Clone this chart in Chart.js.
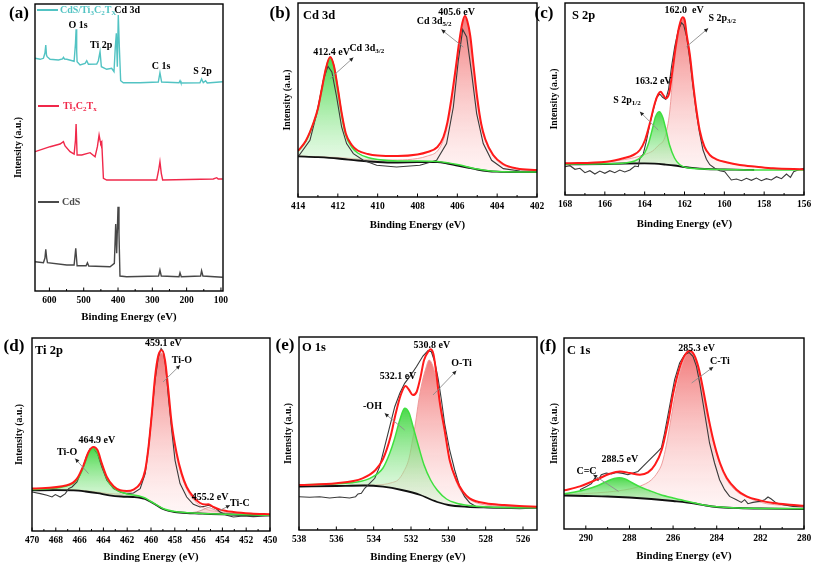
<!DOCTYPE html>
<html>
<head>
<meta charset="utf-8">
<script src="https://cdn.jsdelivr.net/npm/chart.js@4.4.0/dist/chart.umd.min.js"></script>
<style>
  html, body { margin: 0; padding: 0; background: #fff; }
  #fig { position: relative; width: 813px; height: 566px; overflow: hidden;
         font-family: "Liberation Serif", "Times New Roman", serif; font-weight: bold; color: #000; }
  #fig canvas { position: absolute; }
  .lbl { position: absolute; white-space: nowrap; line-height: 1; z-index: 3; }
  .tag { font-size: 17px; transform: translate(-50%, -50%); }
  .ttl { font-size: 12.5px; transform: translateY(-50%); }
  .leg { font-size: 10px; transform: translateY(-50%); }
  .leg sub { font-size: 0.7em; vertical-align: -0.3em; line-height: 0; }
  .sw { position: absolute; height: 2px; width: 21px; z-index: 3; }
</style>
</head>
<body>
<div id="fig">
  <div class="lbl tag" style="left:19px;top:12px">(a)</div>
  <div class="lbl tag" style="left:280px;top:12px">(b)</div>
  <div class="lbl tag" style="left:544px;top:12px">(c)</div>
  <div class="lbl tag" style="left:14px;top:345px">(d)</div>
  <div class="lbl tag" style="left:285px;top:344px">(e)</div>
  <div class="lbl tag" style="left:548px;top:345px">(f)</div>

  <div class="lbl ttl" style="left:303px;top:15px">Cd 3d</div>
  <div class="lbl ttl" style="left:572px;top:15px">S 2p</div>
  <div class="lbl ttl" style="left:35px;top:350px">Ti 2p</div>
  <div class="lbl ttl" style="left:302px;top:347px">O 1s</div>
  <div class="lbl ttl" style="left:567px;top:350px">C 1s</div>

  <div class="sw" style="left:37px;top:9px;background:#52c3c3"></div>
  <div class="lbl leg" style="left:60px;top:10px;color:#52c3c3">CdS/Ti<sub>3</sub>C<sub>2</sub>T<sub>X</sub></div>
  <div class="sw" style="left:38px;top:105px;background:#f0284a"></div>
  <div class="lbl leg" style="left:63px;top:106px;color:#f0284a">Ti<sub>3</sub>C<sub>2</sub>T<sub>x</sub></div>
  <div class="sw" style="left:38px;top:201px;background:#4a4a4a"></div>
  <div class="lbl leg" style="left:62px;top:202px;color:#4a4a4a">CdS</div>
</div>

<script>
// ── (a) survey spectra: [binding energy, intensity] ─────────────
const surveyCdSTi = [[641.6,232.7],[627,231.7],[617.4,232.7],[613,238],[610.6,246],[608.5,236],[606.7,234.3],[598,231.7],[573.7,231],[562,232],[559.2,233.7],[556,232],[549.4,231.7],[528,229.7],[524,247.7],[522.2,261.7],[520.5,240],[519.3,229.3],[510.6,226],[496,227.7],[491.2,230.3],[486.3,226.7],[462,227],[457.3,230.3],[452.4,239.3],[448.5,224.3],[433,221.7],[418.5,222.7],[411.7,219.3],[407.9,244.3],[404.9,257.7],[402,224.3],[399.2,276],[396.2,244.3],[392.3,210.3],[384.6,208.3],[336,208.3],[282.6,209],[277.8,218.3],[272.9,209],[222.2,208.3],[219.3,210.3],[216.6,208],[161.2,208.3],[156.4,212],[151.5,208.3],[144.8,210.3],[140,208],[95.2,209.3]];
const surveyTi3C2 = [[641.6,139.3],[598,144.3],[569,147],[559.2,149.3],[554.4,145],[539.8,139.3],[528,137],[524,151],[522.2,167],[519.3,136],[505.7,136],[481.4,138.3],[466.9,134.3],[460.1,144.3],[455.2,156],[452,150],[450.4,147.7],[447.5,149.3],[442.6,112.7],[433,111],[287.3,111],[281.5,121],[277.8,129.3],[273.9,117.7],[269.9,111],[122.4,112],[112.3,113.3],[108,112],[95.2,112]];
const surveyCdS = [[641.6,29.3],[617.4,28.3],[613,33],[610.6,41.7],[608,33],[605.7,28.3],[549.4,26],[528,26],[523.2,42.7],[519.3,25.3],[493.1,25.3],[489.2,28.3],[485.3,25],[423.2,24.3],[410.7,27.7],[406.8,67],[403.9,37.7],[400,84.3],[397.2,57.7],[394.3,15],[374.9,14.3],[281.8,15],[277.8,21],[273.9,15],[222.2,14.3],[219.3,18.3],[215.6,14.3],[159.3,15],[156.4,20.3],[152.5,15],[95.2,13.7]];
const surveyTicks = [600, 500, 400, 300, 200, 100];

// ── (b) Cd 3d ────────────────────────────────────────────────────
const cdRaw = [[414,40],[413.4,56.7],[413.06,83.4],[412.73,116.7],[412.5,130.7],[412.3,125],[412.06,100],[411.81,70],[411.56,53.4],[411.22,43.4],[410.72,36.7],[410.05,31.7],[409.05,30],[407.88,31.7],[407.04,36.7],[406.54,53.4],[406.2,90],[405.95,136.7],[405.73,167.4],[405.53,160],[405.28,123.4],[405.03,83.4],[404.7,53.4],[404.28,36.7],[403.69,28.4],[402.86,26],[402.02,25.7]];
const cdBg = [[414,40.7],[413,39.8],[412,38.5],[411,36.5],[410,35],[409,34.5],[408,34.8],[407,34.8],[406.5,33.5],[406,31.5],[405.5,29.5],[405,27.5],[404.5,26],[404,25.3],[403,25],[402,25]];
const cdGreen = [[414,46],[413.6,56],[413.2,75],[413,88],[412.8,108],[412.6,128],[412.39,139.4],[412.2,131],[412,108],[411.8,82],[411.6,62],[411.3,50],[411,44],[410.5,39.5],[410,37.5],[409,36],[408,36],[407,35.5],[406,32.5],[405,28],[404,25.5],[402,25]];
const cdPink = [[414,41],[412,39.5],[411,38],[410,37],[409,37],[408,38.5],[407.5,41],[407,46],[406.7,57],[406.5,72],[406.3,96],[406.1,124],[405.9,155],[405.75,173],[405.62,180],[405.5,175],[405.35,160],[405.2,133],[405,98],[404.8,72],[404.6,57],[404.2,41],[403.7,32],[403,28],[402,26.5]];
const cdFit = [[414,46],[413.6,56.5],[413.2,75.5],[413,88.5],[412.8,108.5],[412.6,128.5],[412.39,140],[412.2,131.5],[412,108.5],[411.8,83],[411.6,63.5],[411.3,52],[411,46.5],[410.5,43],[410,41.5],[409,41],[408,42.5],[407.5,45],[407,50],[406.7,60],[406.5,74.5],[406.3,98],[406.1,126],[405.9,156],[405.75,174],[405.62,181],[405.5,176],[405.35,161],[405.2,134],[405,99],[404.8,73],[404.6,58],[404.2,42],[403.7,33],[403,28.5],[402,27]];
const cdTicks = [414, 412, 410, 408, 406, 404, 402];

// ── (c) S 2p ─────────────────────────────────────────────────────
const sRaw = [[168,28.3],[167.75,29.3],[167.5,25.7],[167.25,26.7],[167,22.3],[166.75,24.3],[166.5,21],[166.25,24],[166,21.7],[165.75,24.3],[165.5,22.3],[165.25,25],[165,23],[164.74,25],[164.49,29],[164.32,28.3],[164.24,36.7],[164.07,41],[163.9,55],[163.74,71],[163.57,85],[163.4,97.7],[163.24,101],[163.1,97.7],[162.94,95.7],[162.8,105.7],[162.65,128.3],[162.49,148.3],[162.32,164.3],[162.15,172.3],[162.04,170],[161.9,159],[161.73,135],[161.57,107.7],[161.4,81.7],[161.24,61.7],[161.07,45],[160.9,35.7],[160.73,30.3],[160.48,26.7],[160.23,24.3],[159.98,23.3],[159.81,19],[159.65,15],[159.39,16],[159.14,14.3],[158.89,16.7],[158.64,14.7],[158.39,17],[158.14,14.3],[157.89,16.3],[157.64,15],[157.38,18.3],[157.13,16.3],[156.88,21],[156.68,17.7],[156.52,23.3],[156.3,25],[156,26.7]];
const sBg = [[168,30.7],[166,31],[165,31.5],[164,31.7],[163.5,31.3],[163,30.5],[162.5,29.5],[162,28],[161.5,26.8],[161,26],[160,25.5],[159,25.2],[158.5,25]];
const sGreen = [[168,30.8],[166,31.2],[165,32],[164.5,34],[164.2,37.5],[164,42],[163.8,52],[163.6,67],[163.45,78.5],[163.26,83.3],[163.1,78],[162.95,67],[162.75,50],[162.5,37],[162.25,30.5],[161.8,27],[161,26],[160,25.5],[158,25],[156,25]];
const sPink = [[168,31.6],[166,33],[165,35.5],[164.5,37.5],[164,40.5],[163.6,44],[163.26,50.5],[163.1,53],[162.95,60],[162.75,82],[162.6,115],[162.44,144],[162.27,167],[162.1,177],[161.99,174],[161.9,161],[161.73,139.5],[161.57,111],[161.4,84.5],[161.24,64.5],[161,48],[160.73,40],[160.4,35.7],[159.9,32.7],[159.22,30],[158.39,28.3],[157.55,26.7],[156,25.7]];
const sFit = [[168,31.7],[165.91,33.3],[165.07,36.7],[164.57,40],[164.24,45],[163.98,55],[163.74,71.7],[163.49,91.7],[163.32,100.7],[163.2,103.3],[163.07,100],[162.94,96.7],[162.77,101.7],[162.6,125],[162.44,148.3],[162.27,168.3],[162.1,177.7],[161.99,175],[161.9,161.7],[161.73,140],[161.57,111.7],[161.4,85],[161.24,65],[161,48.3],[160.73,40],[160.4,35.7],[159.9,32.7],[159.22,30],[158.39,28.3],[157.55,26.7],[156,25.7]];
const sTicks = [168, 166, 164, 162, 160, 158, 156];

// ── (d) Ti 2p ────────────────────────────────────────────────────
const tiRaw = [[470,39],[469.3,37.4],[468.74,35.7],[468.32,34],[468.04,36.4],[467.62,34],[467.2,37.4],[466.92,42.4],[466.64,44],[466.22,49],[465.81,60.7],[465.44,74],[465.11,82.4],[464.83,83],[464.49,77.4],[464.13,64],[463.71,50.7],[463.15,42.4],[462.59,39],[462.03,37.4],[461.47,38],[460.91,42.4],[460.49,57.4],[460.21,84],[459.93,117.4],[459.66,150.7],[459.38,174],[459.15,182.4],[458.96,179],[458.76,164],[458.54,134],[458.26,100.7],[457.98,70.7],[457.56,47.4],[457,34],[456.44,26.7],[455.88,24],[455.46,24.7],[455.18,25.7],[454.76,24],[454.48,22],[454.2,19],[453.64,15.7],[453.08,14],[452.24,15],[451.4,14.4],[450,15.4]];
const tiBg = [[470,40.7],[468,40.8],[466.5,40.6],[465.5,39.5],[464.5,37.8],[463.5,35.7],[462.5,34.5],[461.5,34],[461,33.5],[460.5,32],[460,29],[459.5,25.5],[459,22],[458.5,20],[458,19],[457,18],[456,17.5],[455,17],[454,16.6],[452,16],[450,15.7]];
const tiGreen = [[470,41.5],[468,43],[467,45.5],[466.3,50],[465.8,60],[465.4,73],[465.1,80.5],[464.85,82.4],[464.6,80],[464.3,72],[464,62],[463.7,52],[463.3,45],[462.8,40.5],[462,37],[461,35],[460.5,33],[460,29.5],[459,22.5],[458,19.5],[456,17.8],[450,15.8]];
const tiPink = [[470,41.2],[468,41.4],[466.5,41.2],[465.5,40.3],[464.5,39],[463.5,37.3],[462.5,37],[462,38.5],[461.5,41],[460.9,46.5],[460.5,58],[460.2,80],[459.93,114],[459.66,150],[459.38,172],[459.12,178],[458.82,168],[458.54,138],[458.26,105],[457.84,75],[457.42,55],[457,42],[456.44,31.5],[455.88,25.5],[455.2,21],[454.5,19.5],[453,18],[451.5,17],[450,16.5]];
const tiCarbide = [[457,18],[456.2,19],[455.6,21.5],[455.2,23.5],[454.8,22],[454.2,19],[453.5,17.5],[452,16.2]];
const tiFit = [[470,42.4],[467.06,45.7],[466.22,52.4],[465.67,65.7],[465.25,79],[464.83,84],[464.49,80.7],[464.13,67.4],[463.71,54],[463.15,44.7],[462.59,40.7],[462.03,40],[461.47,41.4],[460.91,47.4],[460.49,60.7],[460.21,84],[459.93,117.4],[459.66,154],[459.38,175.7],[459.09,180.7],[458.82,170.7],[458.54,140.7],[458.26,107.4],[457.84,77.4],[457.42,57.4],[457,44],[456.44,34],[455.88,28],[455.46,26.4],[455.18,26.7],[454.76,24],[454.2,21.4],[453.08,19],[451.6,17.4],[450,16.7]];
const tiTicks = [470, 468, 466, 464, 462, 460, 458, 456, 454, 452, 450];

// ── (e) O 1s ─────────────────────────────────────────────────────
const oRaw = [[538,33.3],[537.43,32.7],[536.89,33.3],[536.36,32],[535.82,33],[535.29,32],[534.97,33.3],[534.84,36],[534.66,36.7],[534.48,41.7],[534.21,46.7],[533.94,51.7],[533.68,63.3],[533.41,83.3],[533.14,103.3],[532.87,123.3],[532.6,136.7],[532.34,146.7],[532.07,153.3],[531.71,163.3],[531.36,174],[531.09,179.3],[530.91,178.3],[530.73,168.3],[530.55,151.7],[530.37,130],[530.2,106.7],[529.93,80],[529.66,60],[529.39,43.3],[529.13,33.3],[528.86,27.3],[528.5,23.3],[527.97,22.3],[527.07,21.7],[526.18,21.3],[525.28,22]];
const oBg = [[538,43.3],[536,44],[534.5,44.5],[533.5,43.3],[532.5,40],[531.5,35],[531,31],[530.5,27.5],[530,25],[529,23.2],[528,22.6],[526,22.3],[525.25,22.3]];
const oGreen = [[538,45],[536,46.3],[535,47.7],[534.2,51.7],[533.5,62],[533.14,76.7],[532.9,90],[532.6,110],[532.34,121.7],[532.1,117],[531.9,104],[531.6,84],[531.3,65],[530.95,50],[530.6,40],[530.1,31],[529.6,27],[528.9,24.5],[527,22.5],[525.25,22.3]];
const oPink = [[538,44],[536,44.3],[534.5,44.8],[533.5,45.5],[533,47.5],[532.7,50],[532.4,58],[532.1,72],[531.9,92],[531.75,108],[531.6,128],[531.4,148],[531.2,162],[531.03,170],[530.85,165],[530.65,151],[530.46,130],[530.2,100],[529.93,70],[529.57,48],[529.22,36],[528.86,30.5],[528.3,26],[527,24],[525.25,23.3]];
const oFit = [[538,45],[536,46.7],[534.6,51.7],[533.9,60],[533.5,71],[533.1,93],[532.85,114],[532.55,135],[532.29,144],[532.1,140],[531.9,135],[531.7,138],[531.5,152],[531.3,170],[531.05,179],[530.96,180.7],[530.8,176],[530.64,156],[530.46,128],[530.2,100],[529.93,70],[529.57,50],[529.22,38.3],[528.86,31.7],[528,26.7],[527,25],[526.2,24],[525.25,23.3]];
const oTicks = [538, 536, 534, 532, 530, 528, 526];

// ── (f) C 1s ─────────────────────────────────────────────────────
const cRaw = [[290.27,39.3],[289.97,42.6],[289.74,45.3],[289.59,51],[289.44,48.6],[289.29,54.3],[289.06,56],[288.83,55],[288.6,56.6],[288.3,55.6],[288.07,54.3],[287.84,56],[287.61,57.6],[287.38,62.6],[287.15,67.6],[286.92,72.6],[286.69,77.6],[286.54,81],[286.39,96],[286.16,122.6],[285.93,149.3],[285.7,166],[285.47,174.3],[285.27,176.6],[285.09,172.6],[284.93,162.6],[284.78,146],[284.63,126],[284.48,106],[284.33,86],[284.1,66],[283.87,49.3],[283.64,39.3],[283.41,32.6],[283.1,29.3],[282.87,26.6],[282.72,29.3],[282.57,25.3],[282.34,26.6],[282.03,27.6],[281.8,29.3],[281.65,32],[281.5,30],[281.27,25.9],[280.97,24.3],[280.51,22.6],[280,22]];
const cBg = [[291,33.5],[290,33],[289,32.5],[288,31.5],[287,30],[286,28],[285,25.5],[284.5,23.5],[284,22],[283,21],[282,20.5],[280,20]];
const cGreen = [[291,35],[290.5,37],[290,39.5],[289.5,43],[289,48],[288.7,50.5],[288.47,51.3],[288.2,50],[287.9,46.5],[287.5,42],[287.1,38.5],[286.6,34.5],[286,31],[285.2,27],[284.6,24],[284,22.3],[283,21],[282,20.6],[280,20.3]];
const cPink = [[291,34.3],[290,35.5],[289,37],[288,40],[287.5,43],[287,49],[286.7,57],[286.5,66],[286.3,85],[286.1,110],[285.9,135],[285.7,155],[285.5,169],[285.35,175.5],[285.23,177.6],[285.07,173.3],[284.84,161],[284.62,137.6],[284.39,111],[284.16,87.6],[283.85,64.3],[283.54,49.3],[283.09,37.6],[282.63,32],[282.17,28],[281.71,25.3],[281,23.8],[280,23]];
const cFit = [[291,38.6],[290.27,42.6],[289.51,49.3],[288.9,55.3],[288.44,57.6],[287.98,56],[287.52,54.3],[287.15,56.6],[286.83,64.3],[286.52,79.3],[286.21,109.3],[285.99,136],[285.68,162.6],[285.42,175.3],[285.23,178.3],[285.04,174.3],[284.84,162],[284.62,139.3],[284.39,112.6],[284.16,89.3],[283.85,66],[283.54,51],[283.09,39.3],[282.63,32.6],[282.03,28.6],[281.41,26],[280.65,24.3],[280,23.3]];
const cTicks = [290, 288, 286, 284, 282, 280];

// ── Layout (plot boxes in page pixels) ───────────────────────────
const BOX = {
  a: [35, 4, 223, 291],
  b: [298, 3, 537, 197],
  c: [565, 3, 804, 195],
  d: [32, 338, 270, 531],
  e: [299, 337, 537, 530],
  f: [564, 338, 804, 529],
};
const PAD_L = 30, PAD_R = 12, PAD_T = 2, PAD_B = 40;
const SERIF = '"Liberation Serif", "Times New Roman", serif';

Chart.defaults.font.family = SERIF;
Chart.defaults.font.weight = 'bold';
Chart.defaults.color = '#000';

const pts = arr => arr.map(([x, y]) => ({ x, y }));

// gradient from the curve's top down to the baseline
function grad(arr, top, bottom) {
  const hi = Math.max(...arr.map(p => p[1]));
  return c => {
    const ch = c.chart, ys = ch.scales.y;
    if (!ch.chartArea || !ys) return top;
    const g = ch.ctx.createLinearGradient(0, ys.getPixelForValue(hi), 0, ys.getPixelForValue(12));
    g.addColorStop(0, top);
    g.addColorStop(1, bottom);
    return g;
  };
}

const PINK_TOP = "rgba(240,108,108,0.9)", PINK_BOT = "rgba(255,232,232,0.3)";
const GREEN_TOP = "rgba(55,212,55,0.9)", GREEN_BOT = "rgba(228,250,228,0.3)";

// index 1 is always the background line the fills go down to
function xpsSets(raw, bg, green, pink, fit, extra) {
  const sets = [
    { data: pts(fit), borderColor: "#ff1a1a", borderWidth: 2, order: 1 },
    { data: pts(bg), borderColor: "#111", borderWidth: 1.8, order: 5 },
    { data: pts(pink), borderColor: "rgba(236,150,150,0.9)", borderWidth: 1, fill: 1,
      backgroundColor: grad(pink, PINK_TOP, PINK_BOT), order: 10 },
    { data: pts(green), borderColor: "rgba(0,0,0,0)", borderWidth: 0, fill: 1,
      backgroundColor: grad(green, GREEN_TOP, GREEN_BOT), order: 9 },
    { data: pts(raw), borderColor: "#3a3a3a", borderWidth: 1.1, order: 4, cubicInterpolationMode: 'default', tension: 0 },
    { data: pts(green), borderColor: "#3fe03f", borderWidth: 1.5, order: 3 },
  ];
  if (extra) sets.push({ data: pts(extra), borderColor: "rgba(200,150,150,0.9)", borderWidth: 1, fill: 1,
    backgroundColor: "rgba(245,190,190,0.5)", order: 8 });
  return sets;
}

// ── Ticks, frame, arrows and peak labels ─────────────────────────
const SPEC = {};

function richText(ctx, x, y, segs, size) {
  let cx = x;
  segs.forEach(s => {
    const sub = typeof s !== "string";
    const t = sub ? s.sub : s;
    const fs = sub ? size * 0.7 : size;
    ctx.font = `bold ${fs}px ${SERIF}`;
    ctx.fillText(t, cx, sub ? y + size * 0.3 : y);
    cx += ctx.measureText(t).width;
  });
}

function arrow(ctx, x1, y1, x2, y2) {
  ctx.strokeStyle = "#8c8c8c";
  ctx.lineWidth = 0.9;
  ctx.beginPath(); ctx.moveTo(x1, y1); ctx.lineTo(x2, y2); ctx.stroke();
  const a = Math.atan2(y2 - y1, x2 - x1), s = 4.5;
  ctx.fillStyle = "#222";
  ctx.beginPath();
  ctx.moveTo(x2, y2);
  ctx.lineTo(x2 - s * Math.cos(a - 0.45), y2 - s * Math.sin(a - 0.45));
  ctx.lineTo(x2 - s * Math.cos(a + 0.45), y2 - s * Math.sin(a + 0.45));
  ctx.closePath(); ctx.fill();
}

const decor = {
  id: "decor",
  afterDatasetsDraw(chart) {
    const spec = SPEC[chart.canvas.id];
    const { ctx, chartArea: A, scales: { x, y } } = chart;
    ctx.save();
    // inward ticks, major + minor
    ctx.strokeStyle = "#000";
    ctx.lineWidth = 1;
    const step = Math.abs(spec.ticks[1] - spec.ticks[0]);
    const lo = Math.min(spec.xmin, spec.xmax), hi = Math.max(spec.xmin, spec.xmax);
    spec.ticks.forEach(v => {
      const px = x.getPixelForValue(v);
      ctx.beginPath(); ctx.moveTo(px, A.bottom); ctx.lineTo(px, A.bottom - 3.5); ctx.stroke();
      const m = v - step / 2;
      if (m > lo && m < hi) {
        const pm = x.getPixelForValue(m);
        ctx.beginPath(); ctx.moveTo(pm, A.bottom); ctx.lineTo(pm, A.bottom - 2); ctx.stroke();
      }
    });
    // frame
    ctx.lineWidth = 1.4;
    ctx.strokeRect(A.left, A.top, A.right - A.left, A.bottom - A.top);
    // arrows
    (spec.arrows || []).forEach(([x1, y1, x2, y2]) =>
      arrow(ctx, x.getPixelForValue(x1), y.getPixelForValue(y1), x.getPixelForValue(x2), y.getPixelForValue(y2)));
    // labels
    ctx.fillStyle = "#000";
    ctx.textBaseline = "middle";
    ctx.textAlign = "left";
    (spec.notes || []).forEach(n =>
      richText(ctx, x.getPixelForValue(n.x), y.getPixelForValue(n.y), n.t, spec.noteSize || 10));
    ctx.restore();
  }
};

function makePanel(key, spec) {
  const [x0, y0, x1, y1] = BOX[key];
  const w = x1 - x0, h = y1 - y0;
  const cv = document.createElement("canvas");
  cv.id = "p" + key;
  cv.width = w + PAD_L + PAD_R;
  cv.height = h + PAD_T + PAD_B;
  cv.style.left = (x0 - PAD_L) + "px";
  cv.style.top = (y0 - PAD_T) + "px";
  cv.style.width = cv.width + "px";
  cv.style.height = cv.height + "px";
  document.getElementById("fig").appendChild(cv);
  SPEC[cv.id] = spec;

  new Chart(cv, {
    type: "line",
    data: { datasets: spec.datasets },
    plugins: [decor],
    options: {
      responsive: false,
      animation: false,
      events: [],
      layout: { padding: { top: PAD_T, right: PAD_R, left: 0, bottom: 0 } },
      elements: { point: { radius: 0 }, line: { cubicInterpolationMode: "monotone", fill: false } },
      plugins: { legend: { display: false }, tooltip: { enabled: false } },
      scales: {
        x: {
          type: "linear", reverse: true, min: spec.xmin, max: spec.xmax,
          afterBuildTicks: s => { s.ticks = spec.ticks.map(v => ({ value: v })); },
          afterFit: s => { s.height = PAD_B; },
          grid: { display: false, drawTicks: false },
          border: { display: false },
          ticks: { font: { size: 9.5, weight: "bold" }, color: "#000", padding: 4, maxRotation: 0, autoSkip: false },
          title: { display: true, text: "Binding Energy (eV)", color: "#000",
                   font: { size: 10.8, weight: "bold" },
                   padding: { top: 0, bottom: PAD_B - spec.xTitle - 6.5 } },
        },
        y: {
          min: 0, max: h,
          afterFit: s => { s.width = PAD_L; },
          ticks: { display: false },
          grid: { display: false, drawTicks: false },
          border: { display: false },
          title: { display: true, text: "Intensity (a.u.)", color: "#000",
                   font: { size: 9.8, weight: "bold" },
                   padding: { top: PAD_L - spec.yTitle - 5.9, bottom: 0 } },
        },
      },
    },
  });
}

// ── Panels ───────────────────────────────────────────────────────
makePanel("a", {
  xmin: 94, xmax: 642, ticks: surveyTicks, yTitle: 17, xTitle: 25.7,
  datasets: [
    { data: pts(surveyCdSTi), borderColor: "#52c3c3", borderWidth: 1.4, tension: 0, cubicInterpolationMode: "default" },
    { data: pts(surveyTi3C2), borderColor: "#f0284a", borderWidth: 1.4, tension: 0, cubicInterpolationMode: "default" },
    { data: pts(surveyCdS), borderColor: "#474747", borderWidth: 1.4, tension: 0, cubicInterpolationMode: "default" },
  ],
  notes: [
    { x: 544.7, y: 266, t: ["O 1s"] },
    { x: 481.5, y: 246, t: ["Ti 2p"] },
    { x: 411, y: 281, t: ["Cd 3d"] },
    { x: 301.8, y: 225, t: ["C 1s"] },
    { x: 180.7, y: 220, t: ["S 2p"] },
  ],
});

makePanel("b", {
  xmin: 402, xmax: 414, ticks: cdTicks, yTitle: 10.5, xTitle: 28.3,
  datasets: xpsSets(cdRaw, cdBg, cdGreen, cdPink, cdFit),
  notes: [
    { x: 413.23, y: 145, t: ["412.4 eV"] },
    { x: 411.42, y: 149, t: ["Cd 3d", { sub: "3/2" }] },
    { x: 406.96, y: 185, t: ["405.6 eV"] },
    { x: 408.04, y: 176, t: ["Cd 3d", { sub: "5/2" }] },
  ],
  arrows: [[412.39, 118.4, 411.22, 139.4], [405.7, 150, 406.8, 167.4]],
});

makePanel("c", {
  xmin: 156, xmax: 168, ticks: sTicks, yTitle: 11, xTitle: 29,
  datasets: xpsSets(sRaw, sBg, sGreen, sPink, sFit),
  notes: [
    { x: 163.0, y: 185, t: ["162.0  eV"] },
    { x: 160.8, y: 176.7, t: ["S 2p", { sub: "3/2" }] },
    { x: 164.49, y: 113.3, t: ["163.2 eV"] },
    { x: 165.58, y: 95, t: ["S 2p", { sub: "1/2" }] },
  ],
  arrows: [[161.9, 148.3, 160.81, 166.7], [163.32, 65, 164.24, 83.3]],
});

makePanel("d", {
  xmin: 450, xmax: 470, ticks: tiTicks, yTitle: 13, xTitle: 26,
  datasets: xpsSets(tiRaw, tiBg, tiGreen, tiPink, tiFit, tiCarbide),
  notes: [
    { x: 460.5, y: 187.4, t: ["459.1 eV"] },
    { x: 458.26, y: 170.7, t: ["Ti-O"] },
    { x: 466.09, y: 90.7, t: ["464.9 eV"] },
    { x: 467.9, y: 79, t: ["Ti-O"] },
    { x: 456.58, y: 34, t: ["455.2 eV"] },
    { x: 453.36, y: 27.4, t: ["Ti-C"] },
  ],
  arrows: [[458.99, 149, 457.56, 165.7], [465.25, 57.4, 466.37, 72.4], [454.2, 20.7, 453.36, 25.7]],
});

makePanel("e", {
  xmin: 525.25, xmax: 538, ticks: oTicks, yTitle: 11, xTitle: 27.3,
  datasets: xpsSets(oRaw, oBg, oGreen, oPink, oFit),
  notes: [
    { x: 531.86, y: 185, t: ["530.8 eV"] },
    { x: 529.84, y: 166.7, t: ["O-Ti"] },
    { x: 533.68, y: 153.3, t: ["532.1 eV"] },
    { x: 534.57, y: 123.3, t: ["-OH"] },
  ],
  arrows: [[530.82, 135, 529.57, 159.3], [532.34, 100, 533.41, 116.7]],
});

makePanel("f", {
  xmin: 280, xmax: 291, ticks: cTicks, yTitle: 10, xTitle: 27.4,
  datasets: xpsSets(cRaw, cBg, cGreen, cPink, cFit),
  notes: [
    { x: 285.76, y: 181, t: ["285.3 eV"] },
    { x: 284.31, y: 167.6, t: ["C-Ti"] },
    { x: 289.28, y: 69.3, t: ["288.5 eV"] },
    { x: 290.43, y: 57.6, t: ["C=C"] },
  ],
  arrows: [[285.15, 146, 284.16, 162], [288.5, 37.6, 289.66, 54.3]],
});
</script>
</body>
</html>
